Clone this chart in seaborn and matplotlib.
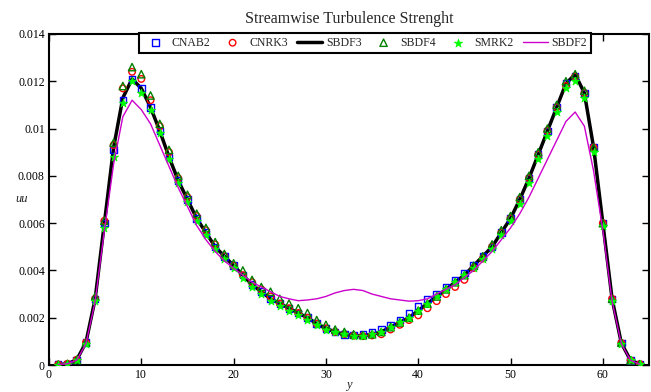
import matplotlib
matplotlib.use("Agg")
import matplotlib.pyplot as plt
import seaborn as sns
from matplotlib.ticker import FuncFormatter

# wall-normal grid index
y_idx = list(range(1, 65))

sbdf3 = [0.00002, 0.00005, 0.00022, 0.00095, 0.0028, 0.0060, 0.0092, 0.0113, 0.0121, 0.0117,
         0.0109, 0.0099, 0.0088, 0.0078, 0.0070, 0.0062, 0.0056, 0.0050, 0.0046, 0.0042,
         0.0038, 0.0034, 0.0031, 0.0028, 0.0026, 0.0024, 0.0022, 0.0020, 0.00175, 0.00155,
         0.0014, 0.0013, 0.00124, 0.00124, 0.0013, 0.0014, 0.0016, 0.0018, 0.0020, 0.0023,
         0.0026, 0.0029, 0.0032, 0.0035, 0.0038, 0.0042, 0.0046, 0.0050, 0.0056, 0.0062,
         0.0070, 0.0079, 0.0089, 0.0099, 0.0109, 0.0119, 0.0123, 0.0115, 0.0092, 0.0060,
         0.0028, 0.00093, 0.0002, 0.00004]

cnab2 = [0.00002, 0.00005, 0.00022, 0.00095, 0.0028, 0.0060, 0.0091, 0.0112, 0.0121, 0.0117,
         0.0109, 0.0099, 0.0088, 0.0078, 0.0070, 0.0062, 0.0056, 0.0050, 0.0046, 0.0042,
         0.0038, 0.0034, 0.0031, 0.0028, 0.0026, 0.0024, 0.0022, 0.0020, 0.00175, 0.00155,
         0.0014, 0.0013, 0.00127, 0.0013, 0.00138, 0.0015, 0.0017, 0.0019, 0.0022, 0.0025,
         0.0028, 0.0030, 0.0033, 0.0036, 0.0039, 0.0042, 0.0046, 0.0050, 0.0056, 0.0062,
         0.0070, 0.0079, 0.0089, 0.0099, 0.0109, 0.0119, 0.0122, 0.0115, 0.0092, 0.0060,
         0.0028, 0.00093, 0.0002, 0.00004]

cnrk3 = [0.00002, 0.00005, 0.00022, 0.00095, 0.0028, 0.0061, 0.0093, 0.0117, 0.0124, 0.0121,
         0.0112, 0.0101, 0.0090, 0.0079, 0.0071, 0.0063, 0.0057, 0.0051, 0.0046, 0.0042,
         0.0038, 0.0035, 0.0032, 0.0029, 0.0026, 0.0024, 0.0022, 0.0020, 0.00175, 0.00155,
         0.0014, 0.0013, 0.00124, 0.00122, 0.00125, 0.0013, 0.0015, 0.0017, 0.0019, 0.0021,
         0.0024, 0.0027, 0.0030, 0.0033, 0.0036, 0.0041, 0.0045, 0.0050, 0.0056, 0.0062,
         0.0070, 0.0079, 0.0089, 0.0099, 0.0109, 0.0118, 0.0122, 0.0115, 0.0092, 0.0060,
         0.0028, 0.00093, 0.0002, 0.00004]

sbdf4 = [0.00002, 0.00005, 0.00022, 0.00095, 0.0029, 0.0061, 0.0094, 0.0118, 0.0126, 0.0123,
         0.0114, 0.0102, 0.0091, 0.0080, 0.0072, 0.0064, 0.0058, 0.0052, 0.0047, 0.0043,
         0.0040, 0.0036, 0.0033, 0.0031, 0.0028, 0.0026, 0.0024, 0.0022, 0.0019, 0.0017,
         0.0015, 0.0014, 0.0013, 0.00126, 0.0013, 0.0014, 0.0016, 0.0018, 0.0020, 0.0023,
         0.0026, 0.0029, 0.0032, 0.0035, 0.0038, 0.0042, 0.0046, 0.0051, 0.0057, 0.0063,
         0.0071, 0.0080, 0.0090, 0.0100, 0.0110, 0.0120, 0.0123, 0.0116, 0.0092, 0.0060,
         0.0028, 0.00095, 0.0002, 0.00004]

smrk2 = [0.00002, 0.00005, 0.0002, 0.0009, 0.0027, 0.0058, 0.0088, 0.0111, 0.0120, 0.0115,
         0.0108, 0.0098, 0.0087, 0.0077, 0.0069, 0.0061, 0.0055, 0.0049, 0.0045, 0.0041,
         0.0037, 0.0033, 0.0030, 0.0027, 0.0025, 0.0023, 0.0021, 0.0019, 0.0017, 0.0015,
         0.0014, 0.0013, 0.00124, 0.00124, 0.0013, 0.0014, 0.0016, 0.0018, 0.0020, 0.0023,
         0.0026, 0.0029, 0.0032, 0.0035, 0.0038, 0.0041, 0.0045, 0.0049, 0.0055, 0.0061,
         0.0068, 0.0077, 0.0087, 0.0097, 0.0107, 0.0117, 0.0120, 0.0113, 0.0090, 0.0059,
         0.0027, 0.0009, 0.0002, 0.00004]

sbdf2 = [0.00002, 0.00005, 0.0002, 0.0009, 0.0027, 0.0057, 0.0085, 0.0105, 0.0112, 0.0108,
         0.0102, 0.0093, 0.0084, 0.0075, 0.0067, 0.0059, 0.0053, 0.0048, 0.0044, 0.0041,
         0.0038, 0.0035, 0.0033, 0.0031, 0.0029, 0.0028, 0.00272, 0.00275, 0.0028, 0.0029,
         0.00305, 0.00315, 0.0032, 0.00315, 0.0030, 0.0029, 0.0028, 0.00275, 0.0027, 0.00272,
         0.0028, 0.0030, 0.0032, 0.0034, 0.0037, 0.0040, 0.0044, 0.0048, 0.0053, 0.0058,
         0.0064, 0.0071, 0.0079, 0.0087, 0.0095, 0.0103, 0.0107, 0.0101, 0.0082, 0.0057,
         0.0027, 0.0009, 0.0002, 0.00003]

sns.set_style("ticks")
plt.rcParams['font.family'] = ['Liberation Serif', 'DejaVu Serif']

fig = plt.figure(figsize=(6.51, 3.92), dpi=100)
ax = fig.add_axes([49 / 651, 27 / 392, 600 / 651, 331 / 392])

sns.scatterplot(x=y_idx, y=cnab2, ax=ax, marker='s', s=22, facecolor='none',
                edgecolor='#0000ff', linewidth=1.0, label='CNAB2', zorder=3)
sns.scatterplot(x=y_idx, y=cnrk3, ax=ax, marker='o', s=22, facecolor='none',
                edgecolor='#ff0000', linewidth=1.0, label='CNRK3', zorder=3)
sns.lineplot(x=y_idx, y=sbdf3, ax=ax, color='black', linewidth=2.5, label='SBDF3', zorder=2)
sns.scatterplot(x=y_idx, y=sbdf4, ax=ax, marker='^', s=28, facecolor='none',
                edgecolor='#008000', linewidth=1.0, label='SBDF4', zorder=3)
sns.scatterplot(x=y_idx, y=smrk2, ax=ax, marker='*', s=40, color='#00ff00',
                edgecolor='#00ff00', linewidth=0.5, label='SMRK2', zorder=4)
sns.lineplot(x=y_idx, y=sbdf2, ax=ax, color='#cc00cc', linewidth=1.0, label='SBDF2', zorder=5)

ax.set_xlim(0, 65)
ax.set_ylim(0, 0.014)
ax.set_xticks(range(0, 61, 10))
ax.set_yticks([0, 0.002, 0.004, 0.006, 0.008, 0.01, 0.012, 0.014])
ax.yaxis.set_major_formatter(FuncFormatter(lambda v, p: f"{v:g}"))
ax.tick_params(direction='in', length=5, width=1, top=True, right=True,
               labelsize=8.5, colors='black', pad=3)
for sp in ax.spines.values():
    sp.set_linewidth(1.5)
    sp.set_color('black')

ax.set_title("Streamwise Turbulence Strenght", fontsize=11.5, pad=8)
ax.set_xlabel("y", fontsize=9, style='italic')
ax.xaxis.set_label_coords(0.5, -0.043)
ax.set_ylabel("uu", fontsize=9, style='italic', rotation=0, va='center', ha='center')
ax.yaxis.set_label_coords(-0.045, 0.5)

leg = ax.legend(ncol=6, loc='upper center', bbox_to_anchor=(0.527, 1.004), fontsize=8.5,
                frameon=True, fancybox=False, framealpha=1, edgecolor='black',
                borderaxespad=0, handlelength=2.1, handletextpad=0.35, columnspacing=0.8,
                borderpad=0.35)
leg.get_frame().set_linewidth(1.5)

plt.savefig("out.png", dpi=100)
